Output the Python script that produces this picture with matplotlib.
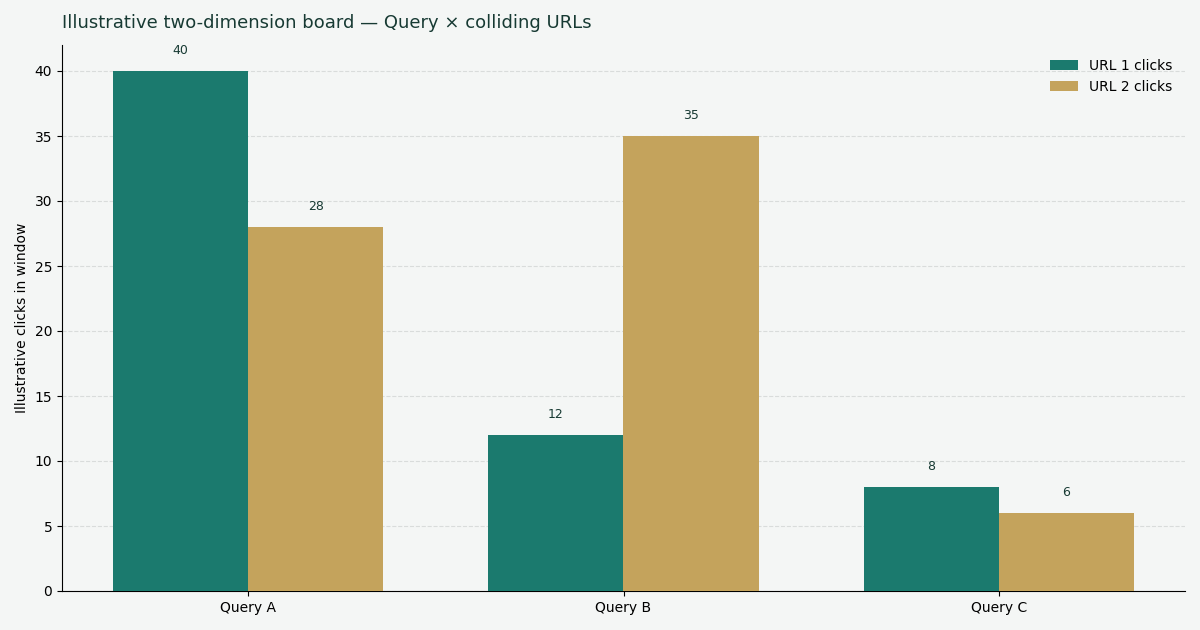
import matplotlib
matplotlib.use("Agg")
import matplotlib.pyplot as plt
import numpy as np

categories = ["Query A", "Query B", "Query C"]
url1_clicks = [40, 12, 8]
url2_clicks = [28, 35, 6]
series_labels = ["URL 1 clicks", "URL 2 clicks"]

bg = "#f4f6f5"
text_col = "#173a33"
c1 = "#1b7a6e"
c2 = "#c4a35c"

fig = plt.figure(figsize=(12, 6.3), dpi=100, facecolor=bg)
ax = fig.add_axes([62/1200, 1-591/630, (1185-62)/1200, (591-45)/630])
ax.set_facecolor(bg)

x = np.arange(len(categories))
w = 0.36
b1 = ax.bar(x - w/2, url1_clicks, w, color=c1, label=series_labels[0], zorder=3)
b2 = ax.bar(x + w/2, url2_clicks, w, color=c2, label=series_labels[1], zorder=3)

for bars in (b1, b2):
    for r in bars:
        ax.annotate(f"{r.get_height():g}", (r.get_x() + r.get_width()/2, r.get_height()),
                    xytext=(0, 15), textcoords="offset points", ha="center", va="center",
                    fontsize=9, color=text_col)

ax.set_ylim(0, 42)
ax.set_xticks(x)
ax.set_xticklabels(categories, fontsize=10)
ax.tick_params(axis="y", labelsize=10)
ax.set_ylabel("Illustrative clicks in window", fontsize=10)
ax.grid(axis="y", linestyle="--", color="#d9dcdb", linewidth=0.8, zorder=0)
ax.set_axisbelow(True)
for s in ("top", "right"):
    ax.spines[s].set_visible(False)
ax.set_title("Illustrative two-dimension board — Query × colliding URLs", loc="left",
             fontsize=13, color=text_col, pad=12)
ax.legend(frameon=False, loc="upper right", fontsize=10, bbox_to_anchor=(1, 0.998))

fig.savefig("out.png", dpi=100, facecolor=bg)
